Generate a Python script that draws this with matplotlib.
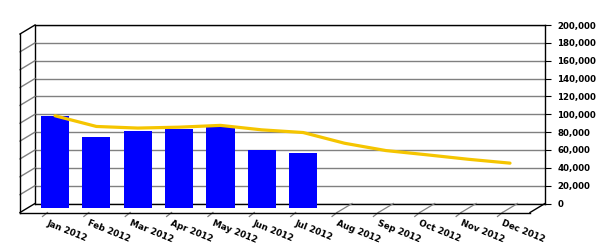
import numpy as np
import matplotlib.pyplot as plt
from matplotlib.lines import Line2D
from matplotlib.transforms import offset_copy
from matplotlib.ticker import FuncFormatter

# Дані
months = ['Jan 2012', 'Feb 2012', 'Mar 2012', 'Apr 2012', 'May 2012', 'Jun 2012',
          'Jul 2012', 'Aug 2012', 'Sep 2012', 'Oct 2012', 'Nov 2012', 'Dec 2012']
bar_vals = [102000, 78500, 86000, 88200, 91800, 64600, 61600,
            np.nan, np.nan, np.nan, np.nan, np.nan]
line_vals = [102800, 90800, 89000, 90000, 92000, 87000, 84000,
             72000, 63800, 59000, 54000, 49700]
y_ticks = np.arange(0, 200001, 20000)

W, H = 600, 250
DX, DY = 15, 9   # глибина 3D

fig = plt.figure(figsize=(6, 2.5), dpi=100)
ax = fig.add_axes([35 / W, (H - 203.5) / H, 510 / W, 178.5 / H])
ax.set_xlim(-0.665, 11.665)
ax.set_ylim(0, 200000)
x = np.arange(len(months))

ax.set_yticks(y_ticks)
ax.yaxis.tick_right()
ax.yaxis.set_major_formatter(FuncFormatter(lambda v, p: f'{int(v):,}'))
ax.tick_params(axis='y', length=4, width=0.8, pad=5, labelsize=6.2, colors='black')
for lab in ax.get_yticklabels():
    lab.set_fontweight('bold')
ax.set_xticks([])
ax.grid(axis='y', color='#808080', linewidth=1)
ax.set_axisbelow(True)
for s in ax.spines.values():
    s.set_color('black')
    s.set_linewidth(1)

# середня площина (стовпці і лінія)
mid = offset_copy(ax.transData, fig=fig, x=-DX / 2, y=-DY / 2 + 0.5, units='dots')
ax.bar(x, bar_vals, width=0.68, color='#0000FF', transform=mid, clip_on=False, zorder=3)
ax.plot(x, line_vals, color='#F5C500', linewidth=2.3, solid_joinstyle='round',
        solid_capstyle='round', transform=mid, clip_on=False, zorder=4)

fig.canvas.draw()


def seg(p0, p1, color='black', lw=1.0, z=2):
    # точки в пікселях дисплея
    fig.add_artist(Line2D([p0[0], p1[0]], [p0[1], p1[1]], color=color, linewidth=lw,
                          transform=None, zorder=z))


def disp(xv, yv):
    return ax.transData.transform((xv, yv))


# ліва стінка
x0 = ax.get_xlim()[0]
x1 = ax.get_xlim()[1]
for v in y_ticks:
    bx, by = disp(x0, v)
    c = 'black' if v in (0, 200000) else '#808080'
    seg((bx, by), (bx - DX, by - DY), c)
bx, by0 = disp(x0, 0)
_, by1 = disp(x0, 200000)
seg((bx - DX, by0 - DY), (bx - DX, by1 - DY))

# підлога
rx, ry = disp(x1, 0)
seg((bx - DX, by0 - DY), (rx - DX, ry - DY))
seg((rx, ry), (rx - DX, ry - DY))

# лінії категорій і підписи
for i, m in enumerate(months):
    px, py = disp(i, 0)
    seg((px - DX, py - DY), (px - DX - 5, py - DY - 4), '#808080', 0.9, 1)
    if np.isnan(bar_vals[i]):
        seg((px, py), (px - DX, py - DY), '#808080', 0.9, 1)
    ax.text(i, 0, m, transform=offset_copy(ax.transData, fig=fig, x=-DX + 1, y=-DY - 6, units='dots'),
            rotation=-22, rotation_mode='anchor', ha='left', va='top',
            fontsize=6.3, fontweight='bold', clip_on=False)

fig.savefig('out.png', dpi=100, facecolor='white')
